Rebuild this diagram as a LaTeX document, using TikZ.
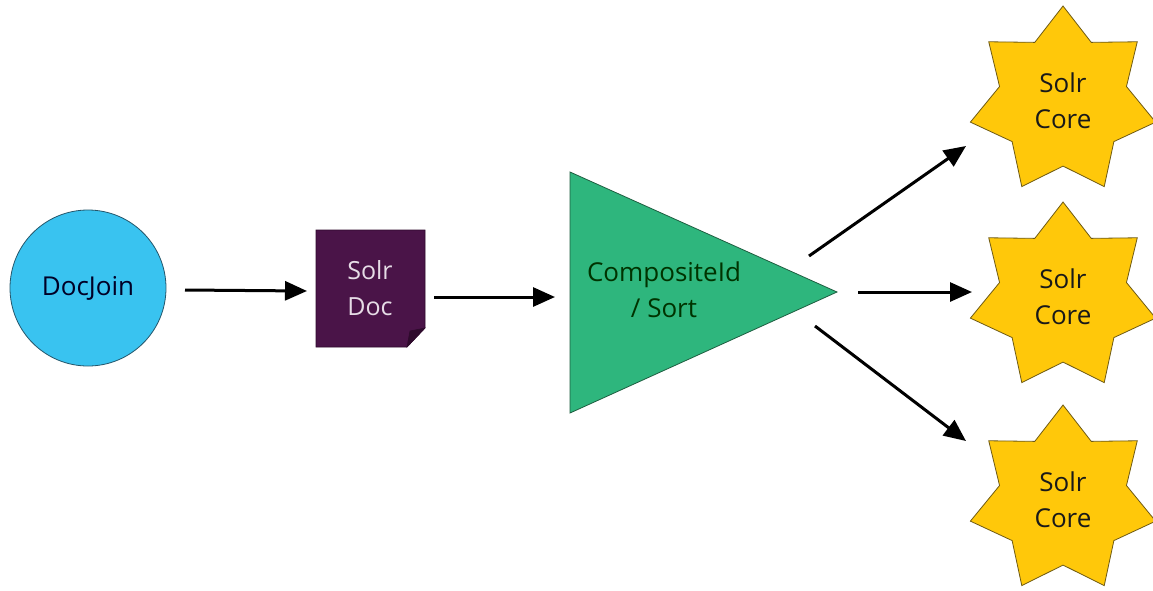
\documentclass[tikz,border=0pt]{standalone}
\usepackage{fontspec}
\setmainfont{Open Sans}
\usetikzlibrary{shapes.geometric,arrows.meta}
\definecolor{joinblue}{HTML}{39C3F0}
\definecolor{joinedge}{HTML}{24566B}
\definecolor{docpurple}{HTML}{4A1448}
\definecolor{docfold}{HTML}{2E0A2C}
\definecolor{doctext}{HTML}{E6DCE6}
\definecolor{triggreen}{HTML}{2EB67D}
\definecolor{trigedge}{HTML}{1E5E40}
\definecolor{coreyellow}{HTML}{FFC80A}
\definecolor{coreedge}{HTML}{6E5A14}
\begin{document}
\begin{tikzpicture}[x=1pt,y=-1pt,
  lbl/.style={font=\fontsize{26}{36}\selectfont, align=center},
  arr/.style={line width=3pt, -{Triangle[length=22pt,width=19pt]}},
  corestar/.style={star, star points=7, star point ratio=1.46, minimum size=190pt,
    inner sep=0pt, fill=coreyellow, draw=coreedge, line width=0.8pt, lbl, text=black!90}
]
\useasboundingbox[fill=white] (0,0) rectangle (1153,590);

% DocJoin circle
\node[circle, minimum size=156pt, inner sep=0pt, fill=joinblue, draw=joinedge,
      line width=0.8pt, lbl, text=black!85!blue] (docjoin) at (88,288) {DocJoin};

% Solr Doc (document with folded corner)
\filldraw[fill=docpurple, draw=docfold, line width=0.6pt]
  (316,230) -- (425,230) -- (425,328) -- (407,347) -- (316,347) -- cycle;
\filldraw[fill=docfold, draw=docfold, line width=0.6pt]
  (425,328) -- (407,347) -- (410,331) -- cycle;
\node[lbl, text=doctext, font=\fontsize{25}{36}\selectfont] (doc) at (370,288) {Solr\\Doc};

% CompositeId / Sort triangle
\filldraw[fill=triggreen, draw=trigedge, line width=0.8pt]
  (570,172) -- (837,292) -- (570,413) -- cycle;
\node[lbl, text=black!80!green] (sort) at (664,290) {CompositeId\\/ Sort};

% Solr cores
\node[corestar] (core1) at (1063,101) {Solr\\Core};
\node[corestar] (core2) at (1063,297) {Solr\\Core};
\node[corestar] (core3) at (1063,500) {Solr\\Core};

% arrow end points
\coordinate (a1s) at (185,290);
\coordinate (a1e) at (307,291);
\coordinate (a2s) at (434,297);
\coordinate (a2e) at (555,297);
\coordinate (a3s) at (809,256);
\coordinate (a3e) at (966,146);
\coordinate (a4s) at (858,292);
\coordinate (a4e) at (972,292);
\coordinate (a5s) at (815,326);
\coordinate (a5e) at (966,441);

\draw[arr] (a1s) -- (a1e);
\draw[arr] (a2s) -- (a2e);
\draw[arr] (a3s) -- (a3e);
\draw[arr] (a4s) -- (a4e);
\draw[arr] (a5s) -- (a5e);
\end{tikzpicture}
\end{document}
